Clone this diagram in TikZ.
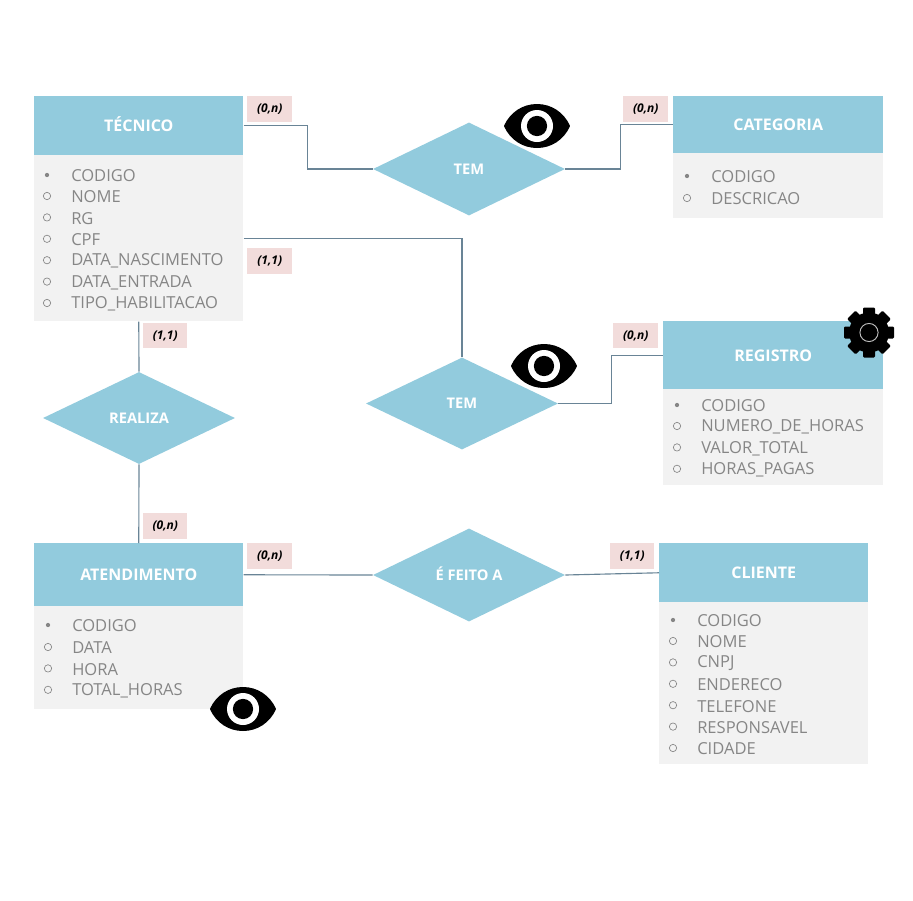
\documentclass[tikz,border=0pt]{standalone}
\usepackage{fontspec}
\setmainfont{Open Sans}
\usepackage{tikz}
\usetikzlibrary{positioning,shapes.geometric}
\definecolor{headBlue}{RGB}{146,203,221}
\definecolor{bodyGray}{RGB}{242,242,242}
\definecolor{attrGray}{RGB}{134,134,134}
\definecolor{cardPink}{RGB}{242,220,219}
\definecolor{linkGray}{RGB}{105,132,150}
\tikzset{
  boxSize/.style 2 args={minimum width=#1*0.75pt, minimum height=#2*0.75pt},
  entityHead/.style={anchor=north west, fill=headBlue, inner sep=0pt, text=white, text height=8.6pt, text depth=0pt, font=\fontsize{12}{14}\selectfont\bfseries},
  entityBody/.style={anchor=north west, fill=bodyGray, inner sep=0pt},
  relation/.style={diamond, fill=headBlue, inner sep=0pt, aspect=2, text=white, text height=7.9pt, text depth=0pt, font=\fontsize{11}{13}\selectfont\bfseries},
  cardLabel/.style={anchor=north west, fill=cardPink, inner sep=0pt, font=\fontsize{9}{10}\selectfont\bfseries\itshape},
  attrText/.style={anchor=west, inner sep=0pt, yshift=-0.7pt, text=attrGray, font=\fontsize{12.4}{14}\selectfont},
  keyDot/.style={circle, fill=attrGray, inner sep=0pt, minimum size=3.2pt},
  attrDot/.style={circle, draw=attrGray, line width=0.5pt, inner sep=0pt, minimum size=5.5pt},
  linkLine/.style={draw=linkGray, line width=0.85pt},
  eyeIcon/.pic={
    \filldraw[black, line width=1.5pt, line join=round] (-32,0) .. controls (-26,-13) and (-14,-21) .. (0,-21) .. controls (14,-21) and (26,-13) .. (32,0) .. controls (26,13) and (14,21) .. (0,21) .. controls (-14,21) and (-26,13) .. (-32,0) -- cycle;
    \fill[white] (0,0) circle[radius=12pt];
    \fill[black] (0,0) circle[radius=7.6pt];
  },
  gearIcon/.pic={
    \fill[black] (0,0) circle[radius=15pt];
    \foreach \ang in {0,45,...,315}
      \fill[black, rotate=\ang, rounded corners=0.8pt] (-6,-25) rectangle (6,0);
    \draw[white!75!black, line width=0.7pt, fill=black] (0,0) circle[radius=6.8pt];
  }
}
\begin{document}
\begin{tikzpicture}[x=0.75pt, y=-0.75pt]
  \useasboundingbox (0,0) rectangle (913,900);
  % entities
  \node[entityHead, boxSize={209}{59}] (tecnicoHead) at (34,96) {TÉCNICO};
  \node[entityBody, boxSize={209}{166}] (tecnicoBody) at (34,155) {};
  \node[entityHead, boxSize={210}{57}] (categoriaHead) at (673,96) {CATEGORIA};
  \node[entityBody, boxSize={210}{65}] (categoriaBody) at (673,153) {};
  \node[entityHead, boxSize={220}{68}] (registroHead) at (663,321) {REGISTRO};
  \node[entityBody, boxSize={220}{96}] (registroBody) at (663,389) {};
  \node[entityHead, boxSize={209}{63}] (atendimentoHead) at (34,543) {ATENDIMENTO};
  \node[entityBody, boxSize={209}{103}] (atendimentoBody) at (34,606) {};
  \node[entityHead, boxSize={209}{59}] (clienteHead) at (659,543) {CLIENTE};
  \node[entityBody, boxSize={209}{162}] (clienteBody) at (659,602) {};
  % relations
  \node[relation, boxSize={192}{93}] (temCategoria) at (469,169) {TEM};
  \node[relation, boxSize={192}{92}] (temRegistro) at (462,403.5) {TEM};
  \node[relation, boxSize={192}{92}] (realiza) at (139,418) {REALIZA};
  \node[relation, boxSize={192}{93}] (feitoA) at (469,575) {É FEITO A};
  % attributes
  \foreach \attrName [count=\i] in {NOME,RG,CPF,DATA\_NASCIMENTO,DATA\_ENTRADA,TIPO\_HABILITACAO}{
    \node[attrDot] (tecnicoDot\i) at (47,196+21.4*\i-21.4) {};
    \node[attrText] (tecnicoAttr\i) at (71,196+21.4*\i-21.4) {\attrName};
  }
  \node[keyDot] (tecnicoKey) at (47,175) {};
  \node[attrText] (tecnicoCod) at (71,175) {CODIGO};
  \node[keyDot] (categoriaKey) at (687,176) {};
  \node[attrText] (categoriaCod) at (711,176) {CODIGO};
  \node[attrDot] (categoriaDot) at (687,198) {};
  \node[attrText] (categoriaAttr) at (711,198) {DESCRICAO};
  \foreach \attrName [count=\i] in {NUMERO\_DE\_HORAS,VALOR\_TOTAL,HORAS\_PAGAS}{
    \node[attrDot] (registroDot\i) at (677,426+21.4*\i-21.4) {};
    \node[attrText] (registroAttr\i) at (701,426+21.4*\i-21.4) {\attrName};
  }
  \node[keyDot] (registroKey) at (677,405) {};
  \node[attrText] (registroCod) at (701,405) {CODIGO};
  \foreach \attrName [count=\i] in {DATA,HORA,TOTAL\_HORAS}{
    \node[attrDot] (atendimentoDot\i) at (48,647+21.4*\i-21.4) {};
    \node[attrText] (atendimentoAttr\i) at (72,647+21.4*\i-21.4) {\attrName};
  }
  \node[keyDot] (atendimentoKey) at (48,625) {};
  \node[attrText] (atendimentoCod) at (72,625) {CODIGO};
  \foreach \attrName [count=\i] in {NOME,CNPJ,ENDERECO,TELEFONE,RESPONSAVEL,CIDADE}{
    \node[attrDot] (clienteDot\i) at (673,641+21.4*\i-21.4) {};
    \node[attrText] (clienteAttr\i) at (697,641+21.4*\i-21.4) {\attrName};
  }
  \node[keyDot] (clienteKey) at (673,620) {};
  \node[attrText] (clienteCod) at (697,620) {CODIGO};
  % cardinalities
  \node[cardLabel, boxSize={45}{26}] (cardTecnicoA) at (247,96) {(0,n)};
  \node[cardLabel, boxSize={45}{26}] (cardCategoria) at (623,96) {(0,n)};
  \node[cardLabel, boxSize={45}{26}] (cardTecnicoB) at (247,248) {(1,1)};
  \node[cardLabel, boxSize={45}{25}] (cardRegistro) at (613,323) {(0,n)};
  \node[cardLabel, boxSize={44}{25}] (cardRealiza) at (143,323) {(1,1)};
  \node[cardLabel, boxSize={44}{26}] (cardAtendA) at (143,513) {(0,n)};
  \node[cardLabel, boxSize={45}{26}] (cardAtendB) at (247,543) {(0,n)};
  \node[cardLabel, boxSize={44}{26}] (cardCliente) at (610,543) {(1,1)};
  % links
  \draw[linkLine] (tecnicoHead.east) -- ++(64,0) |- (temCategoria.west);
  \draw[linkLine] (temCategoria.east) -- ++(55,0) |- (categoriaHead.west);
  \draw[linkLine] (tecnicoBody.east) -| (temRegistro.north);
  \draw[linkLine] (temRegistro.east) -- ++(53,0) |- (registroHead.west);
  \draw[linkLine] (tecnicoBody.south) -- (realiza.north);
  \draw[linkLine] (realiza.south) -- (atendimentoHead.north);
  \draw[linkLine] (atendimentoHead.east) -- (feitoA.west);
  \draw[linkLine] (feitoA.east) -- (clienteHead.west);
  % icons
  \pic at (537,126) {eyeIcon};
  \pic at (544,366) {eyeIcon};
  \pic at (243,709) {eyeIcon};
  \pic at (869,332.5) {gearIcon};
\end{tikzpicture}
\end{document}
